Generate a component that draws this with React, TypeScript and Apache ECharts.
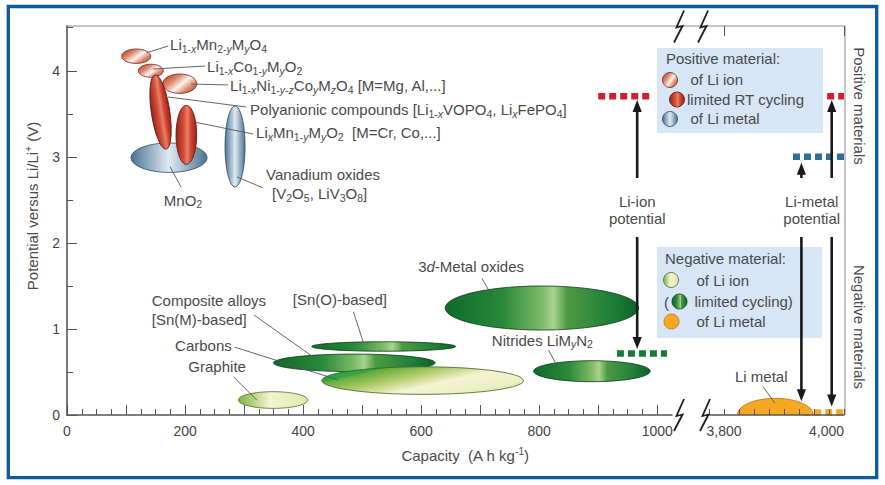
import React, { useEffect, useRef } from 'react';
import * as echarts from 'echarts';

const FONT = '"Liberation Sans", Arial, Helvetica, sans-serif';
const TXT = '#4a4a4a';

// ---------- Positive electrode materials (ellipses) ----------
const posNames = ['MnO2', 'Vanadium oxides', 'LiNiCoMO4', 'LiMn2O4', 'LiCoO2', 'Polyanionic', 'LixMnO2'];
const posCapacity = [172.9, 284.7, 191.0, 117.3, 142.0, 158.5, 202.2];
const posPotential = [2.99, 3.12, 3.85, 4.169, 4.0, 3.52, 3.255];
const posCapSpan = [64.4, 17.0, 28.8, 24.6, 21.2, 15.6, 17.5];
const posPotSpan = [0.171, 0.47, 0.113, 0.084, 0.076, 0.435, 0.343];
const posTilt = [0, 0, 0, 0, 0, 8.5, 0];
const posKind = ['metal', 'metal', 'ion', 'ion', 'ion', 'limited', 'limited'];

// ---------- Negative electrode materials (ellipses) ----------
const negNames = ['Graphite', '3d-Metal oxides', 'Nitrides', 'Sn(O)-based', 'Composite alloys', 'Carbons'];
const negCapacity = [349.2, 804.6, 889.3, 536.6, 486.8, 602.5];
const negPotential = [0.174, 1.243, 0.509, 0.796, 0.606, 0.4];
const negCapSpan = [58.8, 163.8, 98.8, 121.9, 137, 170.8];
const negPotSpan = [0.097, 0.256, 0.122, 0.055, 0.102, 0.16];
const negKind = ['negIon', 'negLimited', 'negLimited', 'negLimited', 'negLimited', 'carbon'];

// ---------- Li metal ----------
const liMetalCapacity = [3885.5];
const liMetalPotential = [0];
const liMetalCapSpan = [63.3];
const liMetalPotSpan = [0.194];

// ---------- Potential levels (dotted markers) ----------
const levelGrid = [0, 1, 1, 0, 1];
const levelFrom = [900, 3972, 3915, 931.7, 3932];
const levelTo = [988, 4000, 4000, 1016.4, 4000];
const levelValue = [3.705, 3.705, 3.0, 0.716, 0.03];
const levelColor = ['#d21f2b', '#d21f2b', '#2f6f96', '#157a35', '#f5a623'];

// ---------- Arrows ----------
const arrowGrid = [0, 0, 1, 1, 1, 1];
const arrowCapacity = [966, 966, 3929, 3929, 3979.5, 3979.5];
const arrowFrom = [2.754, 2.068, 2.754, 2.068, 2.754, 2.068];
const arrowTo = [3.66, 0.767, 2.93, 0.16, 3.66, 0.1];

// ---------- Annotations ----------
const annText = [
  'Li{s|1-}{si|x}Mn{s|2-}{si|y}M{si|y}O{s|4}',
  'Li{s|1-}{si|x}Co{s|1-}{si|y}M{si|y}O{s|2}',
  'Li{s|1-}{si|x}Ni{s|1-}{si|y}{s|-}{si|z}Co{si|y}M{si|z}O{s|4} [M=Mg, Al,...]',
  'Polyanionic compounds [Li{s|1-}{si|x}VOPO{s|4}, Li{si|x}FePO{s|4}]',
  'Li{si|x}Mn{s|1-}{si|y}M{si|y}O{s|2}  [M=Cr, Co,...]',
  'Vanadium oxides',
  '[V{s|2}O{s|5}, LiV{s|3}O{s|8}]',
  'MnO{s|2}',
  '3{i|d}-Metal oxides',
  'Nitrides LiM{si|y}N{s|2}',
  '[Sn(O)-based]',
  'Composite alloys',
  '[Sn(M)-based]',
  'Carbons',
  'Graphite',
  'Li-ion\npotential',
  'Li metal',
  'Li-metal\npotential',
];
const annGrid = [0, 0, 0, 0, 0, 0, 0, 0, 0, 0, 0, 0, 0, 0, 0, 0, 1, 1];
const annCapacity = [174.6, 237.3, 276.3, 310.2, 320.3, 337.3, 347.5, 196.6, 594.9, 719.8, 382.5, 143.6, 143.6, 183.1, 205.6, 966.1, 3818.3, 3946.2];
const annPotential = [4.3, 4.044, 3.823, 3.544, 3.277, 2.789, 2.568, 2.498, 1.723, 0.871, 1.344, 1.336, 1.112, 0.813, 0.561, 2.382, 0.445, 2.382];
const annAlign = ['left', 'left', 'left', 'left', 'left', 'left', 'left', 'center', 'left', 'left', 'left', 'left', 'left', 'left', 'left', 'center', 'left', 'center'];
const leaderFrom: (number[] | null)[] = [
  [135.1, 4.21], [145.8, 4.02], [210.2, 3.846], [171.2, 3.695], [218.6, 3.4], [288.1, 2.766], null,
  [174.6, 2.885], [702.9, 1.588], [815.8, 0.755], [485.3, 1.2], [316.9, 1.162], null,
  [284.7, 0.787], [281.9, 0.445], null, [3865, 0.329], null,
];
const leaderTo: (number[] | null)[] = [
  [171.7, 4.288], [233.9, 4.055], [272.9, 3.835], [303.4, 3.579], [315.3, 3.265], [332.2, 2.638], null,
  [193.2, 2.649], [722.5, 1.356], [835.6, 0.503], [502.2, 0.84], [420.3, 0.659], null,
  [459.8, 0.407], [321.5, 0.174], null, [3885, 0.136], null,
];

const xLeftLabels = [0, 200, 400, 600, 800, 1000];
const xRightLabels = [3800, 4000];
const yLabels = [0, 1, 2, 3, 4];

// ---------- styles ----------
const lin = (x: number, y: number, x2: number, y2: number, stops: [number, string][]) => ({
  type: 'linear', x, y, x2, y2, global: false,
  colorStops: stops.map(([offset, color]) => ({ offset, color })),
});

const FILLS: Record<string, { fill: any; stroke: string }> = {
  ion: {
    fill: lin(0, 0.15, 1, 0.85, [[0, '#b5402a'], [0.3, '#dc8a70'], [0.55, '#fdf3ee'], [0.75, '#e4957c'], [1, '#b53f29']]),
    stroke: '#6e2416',
  },
  limited: {
    fill: lin(0, 0, 1, 0, [[0, '#9a2216'], [0.38, '#d4503a'], [0.55, '#ea7e66'], [0.72, '#cf4732'], [1, '#982116']]),
    stroke: '#5a120a',
  },
  metal: {
    fill: lin(0, 0, 1, 0, [[0, '#4b7392'], [0.5, '#dfeaf5'], [1, '#4b7392']]),
    stroke: '#2e4a62',
  },
  negIon: {
    fill: lin(0, 0, 1, 0, [[0, '#7db441'], [0.45, '#f4f3d2'], [1, '#e0e8ad']]),
    stroke: '#4c6822',
  },
  negLimited: {
    fill: lin(0, 0, 1, 0, [[0, '#0e692b'], [0.3, '#2a893a'], [0.5, '#7dbb67'], [0.56, '#a8d38e'], [0.63, '#4d9b44'], [0.85, '#217f39'], [1, '#0d6228']]),
    stroke: '#0a3a18',
  },
  carbon: {
    fill: lin(0, 0.2, 1, 0.8, [[0, '#27a744'], [0.15, '#2aa846'], [0.17, '#62ab3c'], [0.38, '#afcb66'], [0.6, '#f6f3d4'], [0.85, '#edefc3'], [1, '#d5e1a4']]),
    stroke: '#3e5d22',
  },
  orange: { fill: '#f7a823', stroke: '#b57412' },
};

const RICH: any = {
  s: { fontSize: 10.5, fontFamily: FONT, fill: TXT, lineHeight: 10, padding: [8, 0, 0, 0] },
  si: { fontSize: 10.5, fontFamily: FONT, fill: TXT, fontStyle: 'italic', lineHeight: 10, padding: [8, 0, 0, 0] },
  i: { fontSize: 15, fontFamily: FONT, fill: TXT, fontStyle: 'italic' },
  p: { fontSize: 10, fontFamily: FONT, fill: TXT, lineHeight: 10, padding: [0, 0, 8, 0] },
};

const ellipseRender = (kinds: string[]) => (params: any, api: any) => {
  const c = api.coord([api.value(0), api.value(1)]);
  const s = api.size([api.value(2), api.value(3)]);
  const f = FILLS[kinds[params.dataIndex]];
  return {
    type: 'ellipse',
    x: c[0],
    y: c[1],
    rotation: ((api.value(4) as number) * Math.PI) / 180,
    shape: { cx: 0, cy: 0, rx: s[0], ry: s[1] },
    style: { fill: f.fill, stroke: f.stroke, lineWidth: 0.8 },
  };
};

const arrowRender = (params: any, api: any) => {
  const a = api.coord([api.value(0), api.value(1)]);
  const b = api.coord([api.value(0), api.value(2)]);
  const d = b[1] > a[1] ? 1 : -1;
  const head = 12;
  const hw = 4.6;
  return {
    type: 'group',
    children: [
      { type: 'line', shape: { x1: a[0], y1: a[1], x2: b[0], y2: b[1] - d * head * 0.7 }, style: { stroke: '#1a1a1a', lineWidth: 2.6 } },
      { type: 'polygon', shape: { points: [[b[0], b[1]], [b[0] - hw, b[1] - d * head], [b[0] + hw, b[1] - d * head]] }, style: { fill: '#1a1a1a' } },
    ],
  };
};

const annRender = (params: any, api: any) => {
  const k = api.value(2) as number;
  const p = api.coord([api.value(0), api.value(1)]);
  const children: any[] = [];
  const f = leaderFrom[k];
  const t = leaderTo[k];
  if (f && t) {
    const a = api.coord(f);
    const b = api.coord(t);
    children.push({ type: 'line', shape: { x1: a[0], y1: a[1], x2: b[0], y2: b[1] }, style: { stroke: '#555', lineWidth: 0.9 } });
  }
  children.push({
    type: 'text',
    x: p[0],
    y: p[1],
    style: {
      text: annText[k], fill: TXT, fontSize: 15, fontFamily: FONT,
      textAlign: annAlign[k], textVerticalAlign: 'middle', lineHeight: 17, rich: RICH,
    },
  });
  return { type: 'group', children };
};

function buildOption(): any {
  const axisColor = '#555';
  const hiddenY = { type: 'value', min: 0, max: 4.52, show: false, splitLine: { show: false } };

  const series: any[] = [];
  series.push({
    type: 'custom', name: 'Positive materials', xAxisIndex: 0, yAxisIndex: 0, z: 2, silent: true,
    renderItem: ellipseRender(posKind),
    data: posNames.map((_, i) => [posCapacity[i], posPotential[i], posCapSpan[i], posPotSpan[i], posTilt[i]]),
  });
  series.push({
    type: 'custom', name: 'Negative materials', xAxisIndex: 0, yAxisIndex: 0, z: 2, silent: true,
    renderItem: ellipseRender(negKind),
    data: negNames.map((_, i) => [negCapacity[i], negPotential[i], negCapSpan[i], negPotSpan[i], 0]),
  });
  series.push({
    type: 'custom', name: 'Li metal', xAxisIndex: 1, yAxisIndex: 1, z: 2, silent: true, clip: true,
    renderItem: ellipseRender(['orange']),
    data: liMetalCapacity.map((c, i) => [c, liMetalPotential[i], liMetalCapSpan[i], liMetalPotSpan[i], 0]),
  });
  levelValue.forEach((v, i) => {
    series.push({
      type: 'line', xAxisIndex: levelGrid[i], yAxisIndex: levelGrid[i], z: 3, silent: true, clip: false,
      symbol: 'none',
      lineStyle: { color: levelColor[i], width: 6.5, type: [7, 4], cap: 'butt' },
      data: [[levelFrom[i], v], [levelTo[i], v]],
    });
  });
  [0, 1].forEach((g) => {
    series.push({
      type: 'custom', xAxisIndex: g, yAxisIndex: g, z: 6, silent: true,
      renderItem: arrowRender,
      data: arrowCapacity.map((c, i) => [c, arrowFrom[i], arrowTo[i]]).filter((_, i) => arrowGrid[i] === g),
    });
    series.push({
      type: 'custom', xAxisIndex: g, yAxisIndex: g, z: 6, silent: true,
      renderItem: annRender,
      data: annText.map((_, i) => [annCapacity[i], annPotential[i], i]).filter((_, i) => annGrid[i] === g),
    });
  });

  const bolt = (cx: number, cy: number) => ({
    type: 'polyline', z: 20,
    shape: { points: [[cx + 5, cy - 16], [cx - 2.5, cy + 1], [cx + 3.5, cy - 0.5], [cx - 5, cy + 16]] },
    style: { stroke: '#1e1e1e', lineWidth: 1.8, fill: null },
  });
  const gText = (x: number, y: number, text: string, extra: any = {}) => ({
    type: 'text', x, y, z: 12,
    style: { text, fill: TXT, fontSize: 15, fontFamily: FONT, textAlign: 'left', textVerticalAlign: 'middle', rich: RICH, ...extra },
  });
  const gCircle = (x: number, y: number, kind: string) => ({
    type: 'circle', z: 12,
    shape: { cx: x, cy: y, r: 7.5 },
    style: { fill: FILLS[kind].fill, stroke: FILLS[kind].stroke, lineWidth: 0.8 },
  });

  const graphic: any[] = [
    { type: 'rect', z: 30, shape: { x: 8.3, y: 6.5, width: 868.4, height: 471.2 }, style: { fill: null, stroke: '#0d5a9c', lineWidth: 3.3 } },
    { type: 'line', z: 1, shape: { x1: 67, y1: 26, x2: 845, y2: 26 }, style: { stroke: '#8a8a8a', lineWidth: 1 } },
    { type: 'line', z: 1, shape: { x1: 845, y1: 26, x2: 845, y2: 415 }, style: { stroke: '#8a8a8a', lineWidth: 1 } },
    bolt(679, 26.5), bolt(703, 26.5), bolt(679, 415), bolt(705, 415),
    // legend boxes
    { type: 'rect', z: 1, shape: { x: 657, y: 48, width: 166, height: 85 }, style: { fill: '#d6e6f6' } },
    { type: 'rect', z: 1, shape: { x: 657, y: 247, width: 165, height: 91 }, style: { fill: '#d6e6f6' } },
    gText(666, 58.5, 'Positive material:'),
    gCircle(670, 80, 'ion'), gText(690.5, 79.5, 'of Li ion'),
    gCircle(677, 99.5, 'limited'), gText(687, 99.5, 'limited RT cycling'),
    gCircle(670, 119, 'metal'), gText(690.5, 118.5, 'of Li metal'),
    gText(665, 258.5, 'Negative material:'),
    gCircle(671, 280, 'negIon'), gText(696.5, 280, 'of Li ion'),
    gText(664, 302, '('), gCircle(679.5, 301.5, 'negLimited'), gText(694.5, 301.5, 'limited cycling)'),
    gCircle(671.5, 321.5, 'orange'), gText(696.5, 321.5, 'of Li metal'),
    // titles
    { type: 'text', x: 32, y: 206, rotation: Math.PI / 2, z: 12, style: { text: 'Potential versus Li/Li{p|+} (V)', fill: TXT, fontSize: 15, fontFamily: FONT, textAlign: 'center', textVerticalAlign: 'middle', rich: RICH } },
    { type: 'text', x: 465, y: 455, z: 12, style: { text: 'Capacity  (A h kg{p|-1})', fill: TXT, fontSize: 15, fontFamily: FONT, textAlign: 'center', textVerticalAlign: 'middle', rich: RICH } },
    { type: 'text', x: 859, y: 106, rotation: -Math.PI / 2, z: 12, style: { text: 'Positive materials', fill: TXT, fontSize: 15, fontFamily: FONT, textAlign: 'center', textVerticalAlign: 'middle' } },
    { type: 'text', x: 859, y: 327, rotation: -Math.PI / 2, z: 12, style: { text: 'Negative materials', fill: TXT, fontSize: 15, fontFamily: FONT, textAlign: 'center', textVerticalAlign: 'middle' } },
  ];

  return {
    animation: false,
    backgroundColor: '#ffffff',
    grid: [
      { left: 67, top: 26, width: 605, height: 389 },
      { left: 709, top: 26, width: 135, height: 389 },
    ],
    xAxis: [
      {
        gridIndex: 0, type: 'value', min: 0, max: 1025, interval: 100, z: 5,
        axisLine: { show: true, lineStyle: { color: axisColor, width: 1.6 } },
        axisTick: { show: true, inside: true, length: 10, customValues: [0, 100, 200, 300, 400, 500, 600, 700, 800, 900, 1000], lineStyle: { color: axisColor, width: 1 } },
        minorTick: { show: true, splitNumber: 4, length: 6, lineStyle: { color: axisColor, width: 1 } },
        splitLine: { show: false },
        axisLabel: { customValues: xLeftLabels, fontSize: 14, color: '#444', fontFamily: FONT, margin: 9, formatter: (v: number) => String(v) },
      },
      {
        gridIndex: 1, type: 'value', min: 3775, max: 4000, interval: 25, z: 5,
        axisLine: { show: true, lineStyle: { color: axisColor, width: 1.6 } },
        axisTick: { show: true, inside: true, length: 6, lineStyle: { color: axisColor, width: 1 } },
        splitLine: { show: false },
        axisLabel: {
          customValues: xRightLabels, fontSize: 14, color: '#444', fontFamily: FONT, margin: 9, alignMaxLabel: 'right',
          formatter: (v: number) => v.toLocaleString('en-US'),
        },
      },
      {
        gridIndex: 1, type: 'value', min: 3775, max: 4000, interval: 25, z: 5,
        axisLine: { show: false },
        axisTick: { show: true, inside: true, length: 10, customValues: [3800, 4000], lineStyle: { color: axisColor, width: 1 } },
        splitLine: { show: false },
        axisLabel: { show: false },
      },
    ],
    yAxis: [
      {
        gridIndex: 0, type: 'value', min: 0, max: 4.52, interval: 1, z: 5,
        axisLine: { show: true, lineStyle: { color: axisColor, width: 1.6 } },
        axisTick: { show: true, inside: true, length: 10, customValues: yLabels, lineStyle: { color: axisColor, width: 1 } },
        minorTick: { show: true, splitNumber: 2, length: 6, lineStyle: { color: axisColor, width: 1 } },
        splitLine: { show: false },
        axisLabel: { customValues: yLabels, fontSize: 14, color: '#444', fontFamily: FONT, margin: 7 },
      },
      { gridIndex: 1, ...hiddenY },
    ],
    series,
    graphic,
  };
}

export default function App() {
  const ref = useRef<HTMLDivElement>(null);
  useEffect(() => {
    const chart = echarts.init(ref.current!, null, { renderer: 'svg' });
    chart.setOption(buildOption());
    return () => chart.dispose();
  }, []);
  return (
    <div
      ref={ref}
      style={{ position: 'absolute', left: 0, top: 0, width: 885, height: 485, background: '#fff' }}
    />
  );
}
